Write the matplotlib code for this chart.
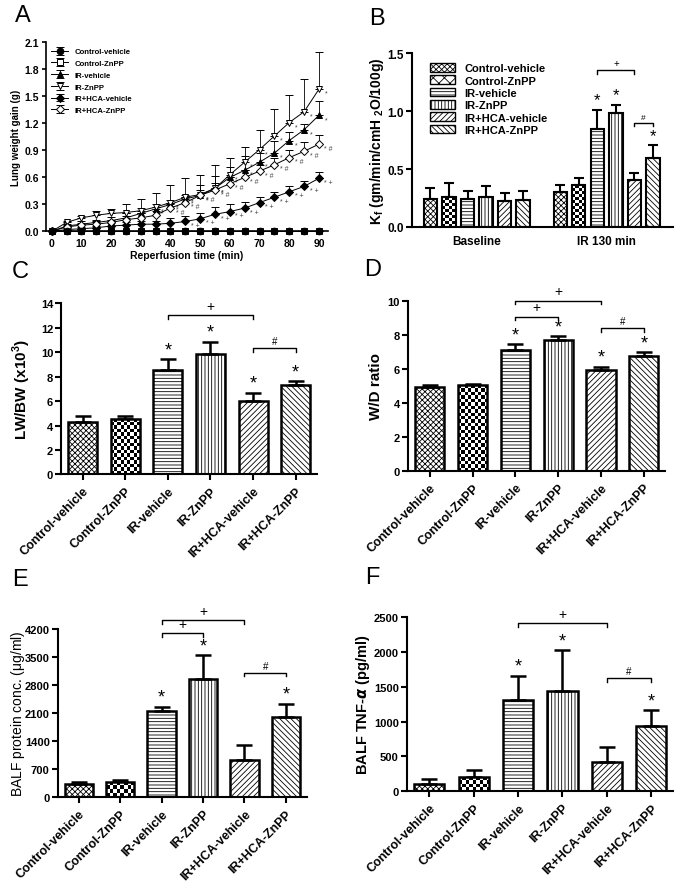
import numpy as np
import matplotlib
matplotlib.use('Agg')
import matplotlib.pyplot as plt
from matplotlib.patches import Patch

plt.rcParams['font.family'] = ['Liberation Sans', 'DejaVu Sans']
plt.rcParams['font.weight'] = 'bold'
plt.rcParams['axes.labelweight'] = 'bold'
plt.rcParams['hatch.linewidth'] = 0.6

W, H = 683, 887

groups = ['Control-vehicle', 'Control-ZnPP', 'IR-vehicle', 'IR-ZnPP',
          'IR+HCA-vehicle', 'IR+HCA-ZnPP']
hatches = ['xxxxxx', '', '-----', '|||||', '//////', '\\\\\\\\\\\\']

# panel A: lung weight gain over reperfusion time
time = list(range(0, 95, 5))
ctrl_veh = [0] * 19
ctrl_znpp = [0] * 19
ir_veh = [0, 0.06, 0.08, 0.10, 0.12, 0.15, 0.20, 0.25, 0.30, 0.36, 0.40, 0.48,
          0.60, 0.68, 0.77, 0.87, 1.01, 1.13, 1.29]
ir_veh_err = [0, 0.02, 0.03, 0.03, 0.04, 0.05, 0.06, 0.06, 0.05, 0.05, 0.12, 0.14,
              0.12, 0.16, 0.10, 0.13, 0.10, 0.06, 0.16]
ir_znpp = [0, 0.10, 0.15, 0.18, 0.20, 0.21, 0.23, 0.27, 0.32, 0.38, 0.41, 0.48,
           0.63, 0.77, 0.91, 1.06, 1.21, 1.33, 1.58]
ir_znpp_err = [0, 0.02, 0.02, 0.05, 0.05, 0.10, 0.13, 0.16, 0.20, 0.21, 0.22, 0.26,
               0.19, 0.17, 0.22, 0.30, 0.31, 0.36, 0.41]
hca_veh = [0, 0.02, 0.03, 0.04, 0.06, 0.07, 0.08, 0.08, 0.09, 0.11, 0.14, 0.19,
           0.22, 0.26, 0.32, 0.38, 0.44, 0.50, 0.59]
hca_veh_err = [0, 0.02, 0.02, 0.02, 0.03, 0.03, 0.03, 0.04, 0.06, 0.06, 0.07, 0.08,
               0.08, 0.07, 0.06, 0.06, 0.07, 0.06, 0.07]
hca_znpp = [0, 0.05, 0.07, 0.08, 0.10, 0.13, 0.15, 0.18, 0.26, 0.32, 0.40, 0.46,
            0.53, 0.60, 0.67, 0.74, 0.82, 0.89, 0.97]
hca_znpp_err = [0, 0.02, 0.02, 0.03, 0.03, 0.04, 0.05, 0.05, 0.06, 0.06, 0.06, 0.08,
                0.07, 0.08, 0.07, 0.08, 0.09, 0.10, 0.10]

# panel B: Kf
kf_base = [0.237, 0.257, 0.242, 0.26, 0.228, 0.234]
kf_base_err = [0.10, 0.118, 0.067, 0.092, 0.069, 0.072]
kf_ir = [0.303, 0.358, 0.848, 0.987, 0.407, 0.594]
kf_ir_err = [0.057, 0.062, 0.162, 0.069, 0.055, 0.113]

# panels C-F
lwbw = [4.3, 4.5, 8.5, 9.81, 5.97, 7.3]
lwbw_err = [0.47, 0.24, 0.9, 1.06, 0.71, 0.3]
wd = [4.94, 5.04, 7.12, 7.69, 5.92, 6.76]
wd_err = [0.1, 0.06, 0.31, 0.21, 0.2, 0.2]
balf = [330, 380, 2140, 2940, 920, 1990]
balf_err = [40, 40, 110, 605, 370, 335]
tnf = [100, 206, 1303, 1446, 417, 939]
tnf_err = [68, 96, 359, 580, 210, 220]

fig = plt.figure(figsize=(6.83, 8.87), dpi=100)


def style_axes(ax, lw=1.5):
    for s in ['top', 'right']:
        ax.spines[s].set_visible(False)
    for s in ['left', 'bottom']:
        ax.spines[s].set_linewidth(lw)
    ax.tick_params(width=lw, length=4.5, direction='out', pad=1.5)


def ylabel_at(ax, rect, px):
    # px = right edge of the rotated label, in figure pixels
    ax.yaxis.set_label_coords((px / W - rect[0]) / rect[2], 0.5)


def checker(ax, patch, cell=3.4):
    # fill a bar with a black/white checkerboard, clipped to the bar
    bb = patch.get_window_extent(fig.canvas.get_renderer())
    nx = max(1, int(round(bb.width / cell)))
    ny = max(1, int(round(bb.height / cell)))
    img = (np.add.outer(np.arange(ny), np.arange(nx)) % 2).astype(float)
    x0, y0 = patch.get_x(), patch.get_y()
    im = ax.imshow(img, cmap='gray', extent=[x0, x0 + patch.get_width(), y0,
                   y0 + patch.get_height()], aspect='auto', interpolation='nearest',
                   zorder=1.5, origin='lower')
    im.set_clip_path(patch)


def bracket(ax, x1, x2, y, sym, h, fs):
    ax.plot([x1, x1, x2, x2], [y - h, y, y, y - h], color='black', lw=1.0, clip_on=False)
    ax.text((x1 + x2) / 2, y + h * 0.6, sym, ha='center', va='bottom', fontsize=fs,
            fontweight='normal', clip_on=False)


def draw_bars(ax, x, vals, errs, width, lw, capsize):
    bars = ax.bar(x, vals, width=width, color='none', edgecolor='black', linewidth=lw,
                  hatch=hatches, zorder=2)
    ax.errorbar(x, vals, yerr=[np.zeros(len(vals)), errs], fmt='none', ecolor='black',
                elinewidth=lw, capsize=capsize, capthick=lw, zorder=1)
    return bars


def bar_panel(rect, vals, errs, ylim, yticks, ylabel, lab_px, stars, brackets, h,
              lab_weight='bold', lab_size=10.5):
    ax = fig.add_axes(rect)
    x = np.arange(len(vals))
    ax.set_xlim(-0.5, 5.5)
    ax.set_ylim(*ylim)
    bars = draw_bars(ax, x, vals, errs, 0.68, 1.8, 6)
    checker(ax, bars[1])
    for i in stars:
        ax.text(x[i], vals[i] + errs[i] + h * 0.3, '*', ha='center', va='bottom',
                fontsize=13, fontweight='normal')
    for (a, b, y, sym, fs) in brackets:
        bracket(ax, a, b, y, sym, h, fs)
    ax.set_xlim(-0.5, 5.5)
    ax.set_ylim(*ylim)
    ax.set_yticks(yticks)
    ax.set_xticks(x)
    ax.set_xticklabels(groups, rotation=45, ha='right', rotation_mode='anchor', fontsize=9)
    ax.set_ylabel(ylabel, fontsize=lab_size, fontweight=lab_weight)
    ylabel_at(ax, rect, lab_px)
    style_axes(ax)
    ax.tick_params(axis='y', labelsize=8)
    ax.tick_params(axis='x', pad=3)
    return ax


# ---- A ----
rectA = [0.067, 0.738, 0.413, 0.213]
axA = fig.add_axes(rectA)
series = [
    (ctrl_znpp, [0] * 19, 's', 'white', 'Control-ZnPP', 3),
    (ir_veh, ir_veh_err, '^', 'black', 'IR-vehicle', 3),
    (ir_znpp, ir_znpp_err, 'v', 'white', 'IR-ZnPP', 3),
    (hca_veh, hca_veh_err, 'D', 'black', 'IR+HCA-vehicle', 3),
    (hca_znpp, hca_znpp_err, 'D', 'white', 'IR+HCA-ZnPP', 3),
    (ctrl_veh, [0] * 19, 'o', 'black', 'Control-vehicle', 4),
]
handles_a = {}
for vals, errs, m, fc, lab, z in series:
    ms = 3.8 if m == 'D' else 4.8
    c = axA.errorbar(time, vals, yerr=[np.zeros(19), errs], color='black', lw=0.7,
                     elinewidth=0.6, capsize=3, capthick=0.6, marker=m, ms=ms,
                     mfc=fc, mec='black', mew=0.7, label=lab, clip_on=False, zorder=z)
    handles_a[lab] = c
# significance marks next to points
sig = [(ir_znpp, '*', 35), (ir_veh, '*', 35), (hca_znpp, '* #', 40), (hca_veh, '* +', 45)]
for vals, sym, t0 in sig:
    for t, v in zip(time, vals):
        if t >= t0:
            axA.annotate(sym, (t, v), xytext=(4, -4), textcoords='offset points',
                         fontsize=5, fontweight='normal', color='#444444')
axA.set_xlim(-2, 93)
axA.set_ylim(0, 2.1)
axA.set_xticks(range(0, 100, 10))
axA.set_yticks(np.arange(0, 2.11, 0.3))
axA.yaxis.set_major_formatter(matplotlib.ticker.FormatStrFormatter('%.1f'))
axA.set_xlabel('Reperfusion time (min)', fontsize=7.5, labelpad=1)
axA.set_ylabel('Lung weight gain (g)', fontsize=7)
ylabel_at(axA, rectA, 21)
style_axes(axA, lw=1.2)
axA.tick_params(length=3, pad=2, labelsize=7.5)
axA.legend([handles_a[g] for g in groups], groups, loc='upper left', frameon=False,
           fontsize=5.6, handlelength=2.2, borderaxespad=0.3, labelspacing=0.55)

# ---- B ----
rectB = [0.603, 0.743, 0.383, 0.196]
axB = fig.add_axes(rectB)
axB.set_xlim(-1.0, 13.1)
axB.set_ylim(0, 1.5)
xb = np.arange(6)
xi = np.arange(6) + 7
for xs, vals, errs in [(xb, kf_base, kf_base_err), (xi, kf_ir, kf_ir_err)]:
    bars = draw_bars(axB, xs, vals, errs, 0.72, 1.5, 3.5)
    checker(axB, bars[1], cell=3.0)
for i in [2, 3, 5]:
    axB.text(xi[i], kf_ir[i] + kf_ir_err[i] + 0.02, '*', ha='center', va='bottom',
             fontsize=12, fontweight='normal')
bracket(axB, xi[2], xi[4], 1.35, '+', 0.03, 7)
bracket(axB, xi[4], xi[5], 0.897, '#', 0.03, 6)
axB.set_xlim(-1.0, 13.1)
axB.set_ylim(0, 1.5)
axB.set_yticks([0, 0.5, 1.0, 1.5])
axB.yaxis.set_major_formatter(matplotlib.ticker.FormatStrFormatter('%.1f'))
axB.set_xticks([2.5, 9.5])
axB.set_xticklabels(['Baseline', 'IR 130 min'], fontsize=8.5)
axB.set_ylabel(r'K$_\mathregular{f}$ (gm/min/cmH $_\mathregular{2}$O/100g)', fontsize=10)
ylabel_at(axB, rectB, 386)
style_axes(axB)
axB.tick_params(axis='y', labelsize=8.5)
axB.tick_params(axis='x', length=0, pad=6)
leg_handles = [Patch(facecolor='white', edgecolor='black', hatch=h, lw=1.0) for h in hatches]
leg_handles[1] = Patch(facecolor='white', edgecolor='black', hatch='xxx', lw=1.0)
leg = axB.legend(leg_handles, groups, loc='upper left', frameon=False, fontsize=8,
                 handlelength=2.3, handleheight=0.8, labelspacing=0.2,
                 handletextpad=0.8, bbox_to_anchor=(0.03, 1.0))

# ---- C ----
rectC = [0.090, 0.464, 0.374, 0.193]
bar_panel(rectC, lwbw, lwbw_err, (0, 14), range(0, 15, 2),
          r'LW/BW (x10$^\mathregular{3}$)', 33, [2, 3, 4, 5],
          [(2, 4, 13.0, '+', 10), (4, 5, 10.3, '#', 7)], 0.3, lab_size=11)

# ---- D ----
rectD = [0.598, 0.468, 0.376, 0.192]
bar_panel(rectD, wd, wd_err, (0, 10), range(0, 11, 2), 'W/D ratio', 383, [2, 3, 4, 5],
          [(2, 4, 10.0, '+', 10), (2, 3, 9.06, '+', 10), (4, 5, 8.37, '#', 7)], 0.22,
          lab_size=11)

# ---- E ----
rectE = [0.0849, 0.1003, 0.364, 0.1894]
bar_panel(rectE, balf, balf_err, (0, 4200), range(0, 4201, 700),
          r'BALF protein conc. ($\mathregular{\mu}$g/ml)', 27, [2, 3, 5],
          [(2, 4, 4427, '+', 10), (2, 3, 4090, '+', 10), (4, 5, 3108, '#', 7)], 90,
          lab_weight='normal', lab_size=10)

# ---- F ----
rectF = [0.596, 0.107, 0.390, 0.196]
bar_panel(rectF, tnf, tnf_err, (0, 2500), range(0, 2501, 500),
          r'BALF TNF-$\alpha$ (pg/ml)', 372, [2, 3, 5],
          [(2, 4, 2414, '+', 10), (4, 5, 1624, '#', 7)], 55, lab_size=10.5)

# panel letters
for lab, px, py in [('A', 23, 16), ('B', 377, 19), ('C', 20, 272), ('D', 373, 270),
                    ('E', 20, 580), ('F', 372, 578)]:
    fig.text(px / W, 1 - py / H, lab, fontsize=17, fontweight='normal',
             ha='center', va='center')

fig.savefig('out.png', dpi=100)
